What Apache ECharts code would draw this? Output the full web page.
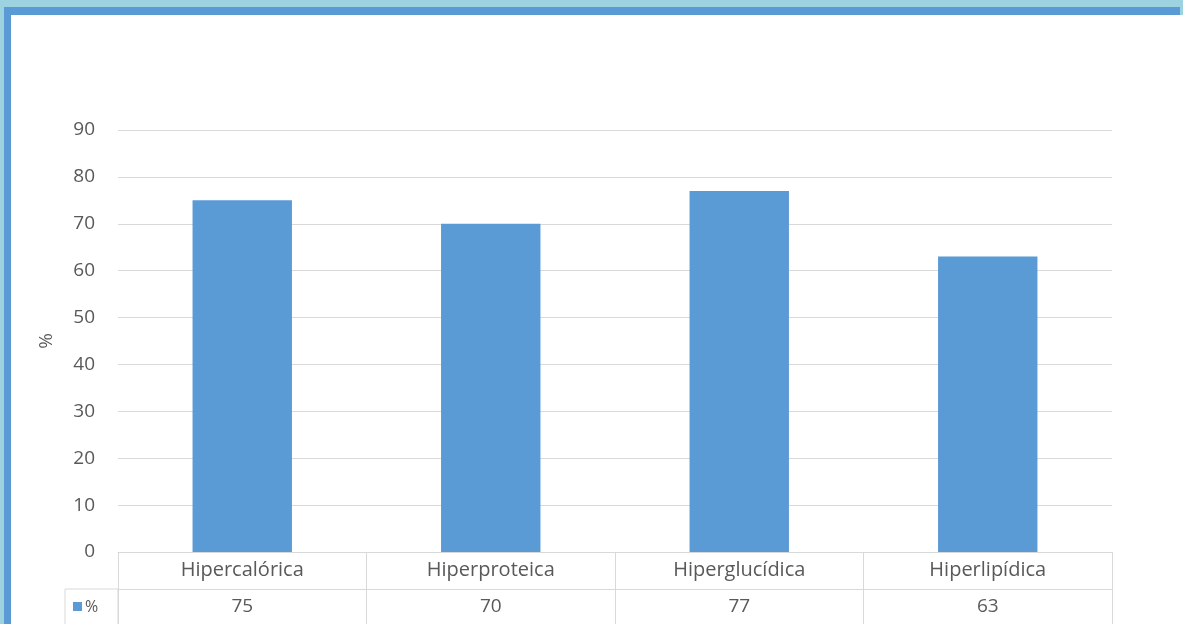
<!DOCTYPE html>
<html>
<head>
<meta charset="utf-8">
<script src="https://cdn.jsdelivr.net/npm/echarts@6/dist/echarts.min.js"></script>
<style>
  html, body { margin: 0; padding: 0; background: #9dd3e0; }
  #chart { width: 1183px; height: 624px; }
</style>
</head>
<body>
<div id="chart"></div>
<script>
// Dietary profile shares (%)
const categories = ['Hipercalórica', 'Hiperproteica', 'Hiperglucídica', 'Hiperlipídica'];
const values = [75, 70, 77, 63];
const seriesName = '%';
const yTicks = { min: 0, max: 90, interval: 10 };

const BAR = '#5b9bd5';
const GRID_LINE = '#d9d9d9';
const TEXT = '#595959';
const FONT = '"Open Sans"';

const chart = echarts.init(document.getElementById('chart'));

const grid = { left: 118, right: 71, top: 130, bottom: 72 };
const rowH = 37;

chart.setOption({
  backgroundColor: '#9dd3e0',
  animation: false,
  textStyle: { fontFamily: FONT },
  grid: grid,
  xAxis: [
    {
      type: 'category',
      data: categories,
      position: 'bottom',
      boundaryGap: true,
      axisLine: { show: true, lineStyle: { color: GRID_LINE, width: 1 } },
      axisTick: { show: true, inside: false, length: rowH * 2, lineStyle: { color: GRID_LINE } },
      axisLabel: { color: TEXT, fontSize: 20, fontFamily: FONT, margin: 8 }
    },
    {
      type: 'category',
      data: values.map(String),
      position: 'bottom',
      offset: rowH,
      boundaryGap: true,
      axisLine: { show: true, lineStyle: { color: GRID_LINE, width: 1 } },
      axisTick: { show: false },
      axisLabel: { color: TEXT, fontSize: 19, fontFamily: FONT, margin: 8 }
    }
  ],
  yAxis: {
    type: 'value',
    min: yTicks.min,
    max: yTicks.max,
    interval: yTicks.interval,
    name: seriesName,
    nameLocation: 'middle',
    nameGap: 62,
    nameRotate: 90,
    nameTextStyle: { color: TEXT, fontSize: 19, fontFamily: FONT },
    axisLine: { show: false },
    axisTick: { show: false },
    axisLabel: { color: TEXT, fontSize: 19, fontFamily: FONT, margin: 23 },
    splitLine: { lineStyle: { color: GRID_LINE, width: 1 } }
  },
  series: [{
    name: seriesName,
    type: 'bar',
    data: values,
    barWidth: '40%',
    itemStyle: { color: BAR }
  }]
});

// Frame around the chart and the legend cell of the data table
const x0 = chart.convertToPixel({ xAxisIndex: 0 }, categories[0]);
const colW = chart.convertToPixel({ xAxisIndex: 0 }, categories[1]) - x0;
const left = x0 - colW / 2;
const axisY = chart.convertToPixel({ yAxisIndex: 0 }, 0);
const row2Top = axisY + rowH;
const legendLeft = 65;

chart.setOption({
  graphic: [
    { type: 'rect', z: -10, silent: true, shape: { x: 4, y: 7, width: 1176, height: 640 }, style: { fill: '#5b9bd5' } },
    { type: 'rect', z: -9, silent: true, shape: { x: 11, y: 15, width: 1172, height: 640 }, style: { fill: '#ffffff' } },
    { type: 'line', silent: true, shape: { x1: legendLeft, y1: row2Top, x2: left, y2: row2Top }, style: { stroke: GRID_LINE, lineWidth: 1 } },
    { type: 'line', silent: true, shape: { x1: legendLeft, y1: row2Top, x2: legendLeft, y2: row2Top + rowH }, style: { stroke: GRID_LINE, lineWidth: 1 } },
    { type: 'line', silent: true, shape: { x1: left, y1: row2Top, x2: left, y2: row2Top + rowH }, style: { stroke: GRID_LINE, lineWidth: 1 } },
    { type: 'rect', silent: true, shape: { x: legendLeft + 8, y: row2Top + 13, width: 9, height: 9 }, style: { fill: BAR } },
    { type: 'text', silent: true, x: legendLeft + 20, y: row2Top + 18, style: { text: seriesName, fill: TEXT, font: '16px ' + FONT, verticalAlign: 'middle' } }
  ]
});
</script>
</body>
</html>
